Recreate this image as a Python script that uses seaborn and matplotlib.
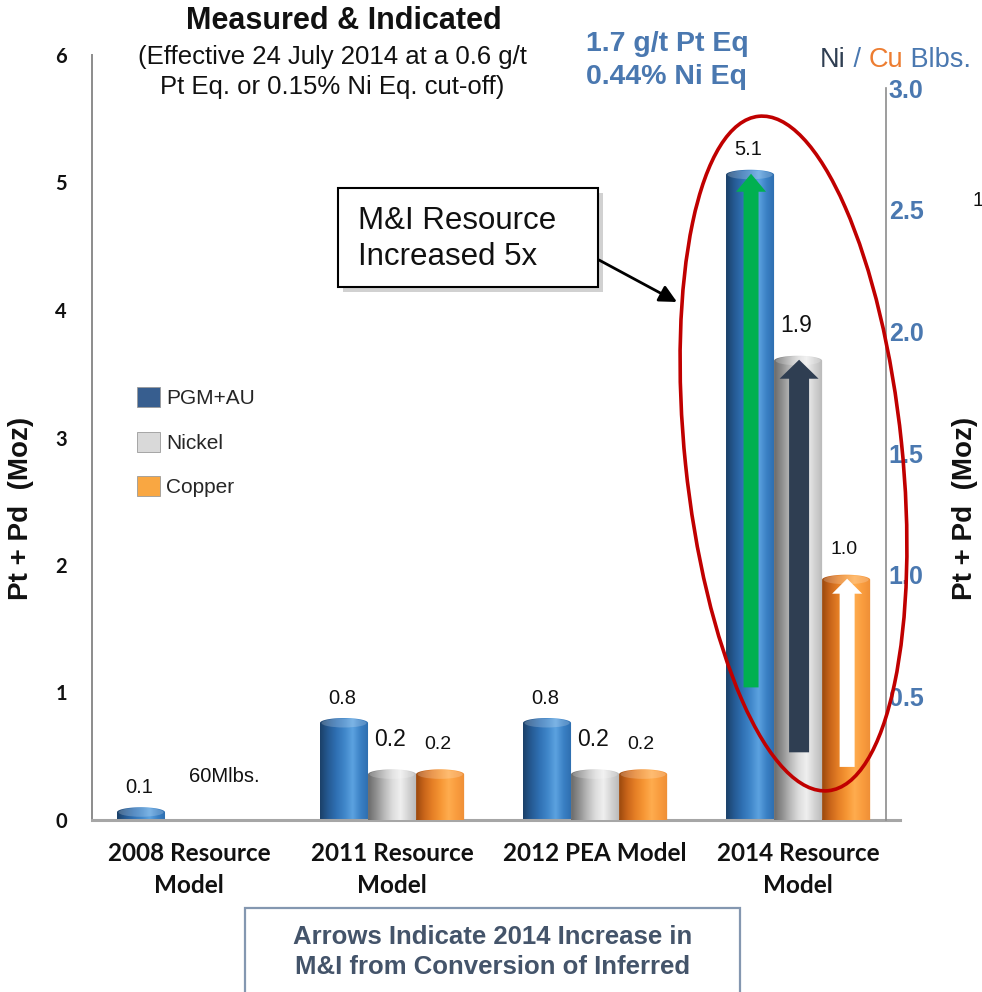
import numpy as np
import pandas as pd
import matplotlib
matplotlib.use("Agg")
import matplotlib.pyplot as plt
import seaborn as sns
from matplotlib.colors import LinearSegmentedColormap, to_rgba
from matplotlib.patches import Rectangle, Ellipse, PathPatch, FancyArrow, FancyArrowPatch, Patch
from matplotlib.path import Path
from matplotlib.transforms import IdentityTransform

# ---------------- data ----------------
models = ["2008 Resource\nModel", "2011 Resource\nModel", "2012 PEA Model", "2014 Resource\nModel"]
series = ["PGM+AU", "Nickel", "Copper"]
pgm_moz = [0.1, 0.8, 0.8, 5.1]            # Pt + Pd (Moz), left axis
nickel_blbs = [np.nan, 0.2, 0.2, 1.9]     # Ni (Blbs), right axis
copper_blbs = [np.nan, 0.2, 0.2, 1.0]     # Cu (Blbs), right axis
left_ticks = [0, 1, 2, 3, 4, 5, 6]
right_ticks = [0.5, 1.0, 1.5, 2.0, 2.5, 3.0]
# 2014 increase from conversion of inferred: arrow base for PGM, Ni, Cu
increase_base = [1.04, 0.27, 0.21]

W, H = 982, 992
BLUE_TXT = "#4a78b0"
ORANGE_TXT = "#ed7d31"
SLATE = "#2f3e52"

sns.set_theme(style="white")
plt.rcParams["font.family"] = ["Liberation Sans", "DejaVu Sans"]

palette = {"PGM+AU": "#2e6fb0", "Nickel": "#c8c8c8", "Copper": "#f59a3a"}
legend_colors = {"PGM+AU": "#375e8f", "Nickel": "#d9d9d9", "Copper": "#f9a742"}
cmaps = {
    "PGM+AU": LinearSegmentedColormap.from_list(
        "pgm", ["#1b4068", "#255a93", "#2f70b3", "#3f86c9", "#5ca2e0", "#3a80c4", "#2d6dae"]),
    "Nickel": LinearSegmentedColormap.from_list(
        "ni", ["#6a6a6a", "#8f8f8f", "#b9b9b9", "#dcdcdc", "#efefef", "#d2d2d2", "#b8b8b8"]),
    "Copper": LinearSegmentedColormap.from_list(
        "cu", ["#9a480d", "#c9651a", "#e57f26", "#f69634", "#ffac4e", "#f99c3e", "#ee8e36"]),
}

rows = []
for m, p, n, c in zip(models, pgm_moz, nickel_blbs, copper_blbs):
    rows += [(m, "PGM+AU", p), (m, "Nickel", n), (m, "Copper", c)]
df = pd.DataFrame(rows, columns=["model", "metal", "value"]).dropna()


def fp(x, y):
    """pixel position (from top-left) -> figure fraction"""
    return x / W, 1 - y / H


fig = plt.figure(figsize=(W / 100, H / 100), dpi=100)
ax = fig.add_axes([92 / W, 1 - 820 / H, (900 - 92) / W, (820 - 55) / H])

common = dict(x="model", y="value", hue="metal", order=models, hue_order=series,
              palette=palette, dodge=True, width=0.71, errorbar=None,
              legend=False, saturation=1)
sns.barplot(data=df[df.metal == "PGM+AU"], ax=ax, **common)
ax2 = ax.twinx()
sns.barplot(data=df[df.metal != "PGM+AU"], ax=ax2, **common)

xlim = (-0.478, 3.502)
left_lim = (0, 6)
right_lim = (-0.0082, 3.136)
ax.set_xlim(*xlim)
ax.set_ylim(*left_lim)
ax2.set_ylim(*right_lim)


def series_of(bar):
    fc = np.array(bar.get_facecolor()[:3])
    return min(series, key=lambda s: np.abs(np.array(to_rgba(palette[s])[:3]) - fc).sum())


def draw_cylinder(axis, bar, cmap, cap_px=5):
    x0, w, h = bar.get_x(), bar.get_width(), bar.get_height()
    y0 = axis.get_ylim()[0]
    top = bar.get_y() + h
    ppu = axis.transData.transform((0, 1))[1] - axis.transData.transform((0, 0))[1]
    r = cap_px / ppu
    xc = x0 + w / 2
    t = np.linspace(0, np.pi, 40)
    arc = np.column_stack([xc + w / 2 * np.cos(t), top - r + r * np.sin(t)])
    verts = np.vstack([[x0, y0], [x0 + w, y0], [x0 + w, top - r], arc, [x0, top - r], [x0, y0]])
    codes = [Path.MOVETO] + [Path.LINETO] * (len(verts) - 2) + [Path.CLOSEPOLY]
    clip = PathPatch(Path(verts, codes), transform=axis.transData, fc="none", ec="none")
    axis.add_patch(clip)
    img = axis.imshow(np.linspace(0, 1, 256)[None, :], cmap=cmap, extent=[x0, x0 + w, y0, top],
                      aspect="auto", interpolation="bilinear", zorder=2)
    img.set_clip_path(clip)
    axis.add_patch(Ellipse((xc, top - r), w * 0.94, 2 * r * 0.9, fc="white", alpha=0.2,
                           ec="none", zorder=3))
    bar.set_visible(False)


bars = {s: [] for s in series}
for axis in (ax, ax2):
    for cont in axis.containers:
        for bar in cont.patches:
            if not np.isfinite(bar.get_height()):
                continue
            s = series_of(bar)
            bars[s].append((axis, bar))
            draw_cylinder(axis, bar, cmaps[s])
ax.set_xlim(*xlim)
ax.set_ylim(*left_lim)
ax2.set_ylim(*right_lim)

# value labels above the bars
label_style = {"PGM+AU": (14.5, 20), "Nickel": (16.5, 30), "Copper": (14, 25)}
for s in series:
    size, off = label_style[s]
    for axis, bar in bars[s]:
        val = bar.get_y() + bar.get_height()
        axis.annotate(f"{val:.1f}", (bar.get_x() + bar.get_width() / 2, val),
                      xytext=(-2, off), textcoords="offset pixels", ha="center", va="center",
                      fontsize=size, color="#111111", zorder=6)
pgm_2008 = bars["PGM+AU"][0][1]
ax.annotate("60Mlbs.", (pgm_2008.get_x() + pgm_2008.get_width() / 2, 0),
            xytext=(83, 43), textcoords="offset pixels", ha="center", va="center",
            fontsize=14.5, color="#111111")

# arrows inside the 2014 bars
arrow_style = {"PGM+AU": ("#00b050", 15, 30, 18), "Nickel": (SLATE, 20, 39, 19),
               "Copper": ("white", 15, 30, 15)}
for s, base in zip(series, increase_base):
    axis, bar = bars[s][-1]
    col, shaft, head, hlen = arrow_style[s]
    xppu = axis.transData.transform((1, 0))[0] - axis.transData.transform((0, 0))[0]
    yppu = axis.transData.transform((0, 1))[1] - axis.transData.transform((0, 0))[1]
    top = bar.get_y() + bar.get_height() - 4 / yppu
    axis.add_patch(FancyArrow(bar.get_x() + bar.get_width() / 2 + 1 / xppu, base, 0, top - base,
                              width=shaft / xppu, head_width=head / xppu,
                              head_length=hlen / yppu, length_includes_head=True,
                              color=col, lw=0, zorder=5))

# ---------------- axes styling ----------------
for sp in ("top", "right"):
    ax.spines[sp].set_visible(False)
ax.spines["left"].set_color("#8c8c8c")
ax.spines["left"].set_linewidth(1.4)
ax.spines["bottom"].set_color("#a6a6a6")
ax.spines["bottom"].set_linewidth(2.2)
for sp in ("top", "left", "bottom"):
    ax2.spines[sp].set_visible(False)
ax2.spines["right"].set_position(("data", (886 - 189) / 203))
ax2.spines["right"].set_bounds(right_lim[0], 3.0)
ax2.spines["right"].set_color("#8c8c8c")
ax2.spines["right"].set_linewidth(1.2)

ax.set_yticks(left_ticks)
ax.set_yticklabels([str(v) for v in left_ticks], fontfamily="Lato", fontweight="bold",
                   fontsize=14.5, color="#111111")
ax.tick_params(axis="y", length=0, pad=18)
ax.set_xticks(range(len(models)))
ax.set_xticklabels(models, fontfamily="Lato", fontweight="bold", fontsize=17.5, color="#111111")
for lab in ax.get_xticklabels():
    lab.set_linespacing(1.48)
ax.tick_params(axis="x", length=0, pad=16)
ax.set_xlabel("")
ax.set_ylabel("Pt + Pd  (Moz)", fontsize=20, fontweight="bold", va="center", color="#111111")
ax.yaxis.set_label_coords((21 - 92) / 808, (820 - 508) / 765)

ax2.set_yticks(right_ticks)
ax2.set_yticklabels([f"{v:.1f}" for v in right_ticks], fontweight="bold", fontsize=18,
                    color=BLUE_TXT)
ax2.tick_params(axis="y", length=0, pad=2)
ax2.set_ylabel("Pt + Pd  (Moz)", fontsize=20, fontweight="bold", va="center", rotation=90,
               color="#111111")
ax2.yaxis.set_label_coords((965 - 92) / 808, (820 - 508) / 765)
ax.grid(False)
ax2.grid(False)

# ---------------- texts ----------------
fig.text(*fp(344, 21), "Measured & Indicated", ha="center", va="center",
         fontsize=22, fontweight="bold", color="#111111")
fig.text(*fp(332, 72), "(Effective 24 July 2014 at a 0.6 g/t\nPt Eq. or 0.15% Ni Eq. cut-off)",
         ha="center", va="center", fontsize=18.5, linespacing=1.35, color="#111111")
fig.text(*fp(586, 44), "1.7 g/t Pt Eq", ha="left", va="center", fontsize=20.5,
         fontweight="bold", color=BLUE_TXT)
fig.text(*fp(586, 77), "0.44% Ni Eq", ha="left", va="center", fontsize=20.5,
         fontweight="bold", color=BLUE_TXT)

prev = fig.text(*fp(820, 60), "Ni", ha="left", va="center", fontsize=19.5, color=SLATE)
for piece, col in [(" / ", BLUE_TXT), ("Cu", ORANGE_TXT), (" Blbs.", BLUE_TXT)]:
    prev = ax.annotate(piece, xy=(1, 0), xycoords=prev, ha="left", va="bottom",
                       fontsize=19.5, color=col, annotation_clip=False)

fig.text(*fp(972, 200), "1", ha="left", va="center", fontsize=14.5, color="#111111")

# legend
handles = [Patch(fc=legend_colors[s], ec="#9a9a9a", lw=0.6) for s in series]
fig.legend(handles, series, loc="upper left", bbox_to_anchor=fp(137, 387), frameon=False,
           fontsize=15, handlelength=1.1, handleheight=1.1, handletextpad=0.3,
           labelspacing=1.13, borderpad=0, borderaxespad=0)

# callout box
fig.add_artist(Rectangle(fp(343, 292), 260 / W, 99 / H, transform=fig.transFigure,
                         fc="#9a9a9a", ec="none", alpha=0.45))
fig.add_artist(Rectangle(fp(338, 287), 260 / W, 99 / H, transform=fig.transFigure,
                         fc="white", ec="black", lw=1.5))
fig.text(*fp(358, 239), "M&I Resource\nIncreased 5x", ha="left", va="center",
         fontsize=22.5, linespacing=1.3, color="#111111")
fig.add_artist(FancyArrowPatch(
    (599, H - 260), (677, H - 302), transform=IdentityTransform(),
    arrowstyle="-|>", mutation_scale=26, color="black", lw=2, shrinkA=0, shrinkB=0))

# highlight ellipse around the 2014 group
fig.add_artist(Ellipse((793.5, H - 453.5), 217, 678, angle=5.9, transform=IdentityTransform(),
                       fill=False, ec="#c00000", lw=2.6, zorder=10))

# bottom note
fig.add_artist(Rectangle(fp(245, 1005), 495 / W, 97 / H, transform=fig.transFigure,
                         fill=False, ec="#8497b0", lw=1.6))
fig.text(*fp(493, 952), "Arrows Indicate 2014 Increase in\nM&I from Conversion of Inferred",
         ha="center", va="center", fontsize=18.5, fontweight="bold", linespacing=1.35,
         color="#44546a")

fig.savefig("out.png", dpi=100)
